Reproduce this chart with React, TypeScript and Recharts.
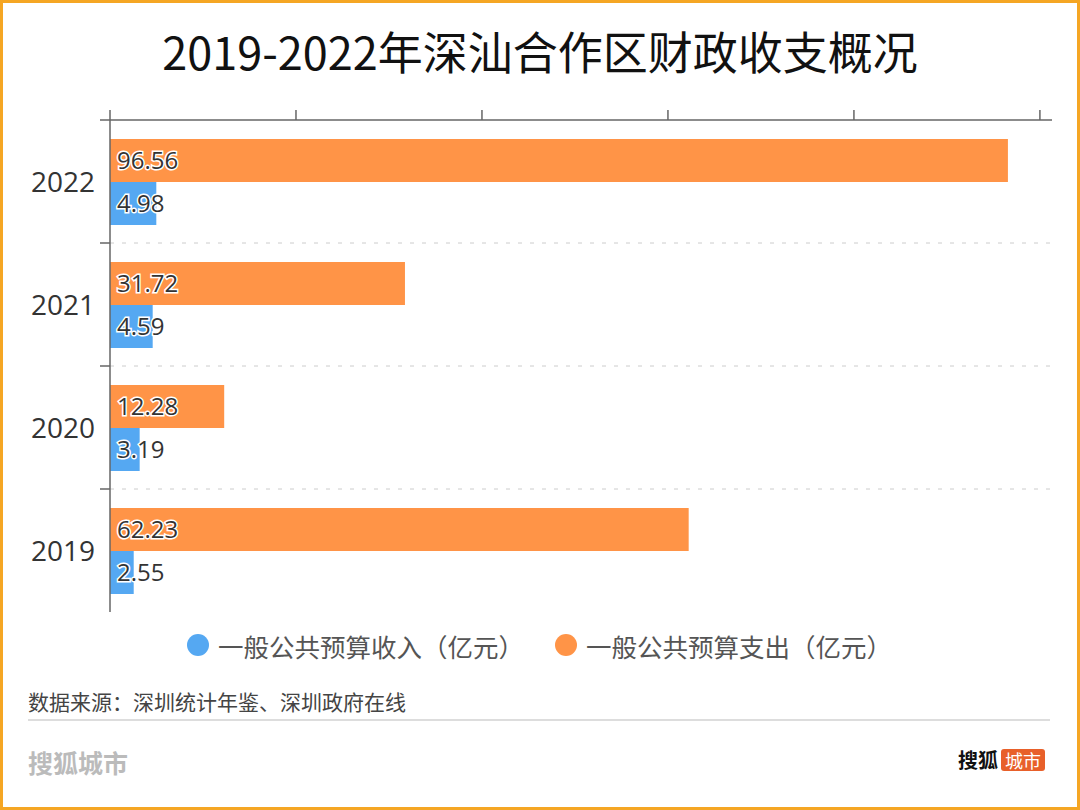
import React from "react"
import { BarChart, Bar, XAxis, YAxis, CartesianGrid, LabelList } from "recharts"

const years = ["2022", "2021", "2020", "2019"]
const income = [4.98, 4.59, 3.19, 2.55]
const expenditure = [96.56, 31.72, 12.28, 62.23]
const valueTicks = [0, 20, 40, 60, 80, 100]

const INCOME_NAME = "一般公共预算收入（亿元）"
const EXPENSE_NAME = "一般公共预算支出（亿元）"
const BLUE = "#55A8F2"
const ORANGE = "#FF9447"
const AXIS = "#666"
const FONT = "'Noto Sans CJK SC', 'Noto Sans', sans-serif"
const NUM_FONT = "'Open Sans', 'Noto Sans', sans-serif"

const data = years.map((year, i) => ({ year, income: income[i], expenditure: expenditure[i] }))

const labelStyle = {
  fontSize: 24,
  fill: "#333",
  stroke: "#fff",
  strokeWidth: 3,
  paintOrder: "stroke",
  fontFamily: NUM_FONT,
} as any

const legendItems = [
  { name: INCOME_NAME, color: BLUE, x: 184 },
  { name: EXPENSE_NAME, color: ORANGE, x: 552 },
]

// year label plus a short tick at the top edge of each band
function YearTick(props: any) {
  const { x, y, payload } = props
  const half = payload && payload.offset ? payload.offset : 0
  return (
    <g>
      <line x1={x + 5} x2={x + 15} y1={y - half} y2={y - half} stroke={AXIS} strokeWidth={1.5} />
      <text x={x} y={y} dy="0.36em" textAnchor="end" fontSize={28} fill="#333" fontFamily={NUM_FONT}>
        {payload.value}
      </text>
    </g>
  )
}

// dashed lines between the year bands
const bandLines = (props: any) => {
  const off = props.offset || { top: 120, height: 492 }
  return years.slice(1).map((_, i) => off.top + (off.height * (i + 1)) / years.length)
}

export default function App() {
  return (
    <div
      style={{
        position: "absolute",
        left: 0,
        top: 0,
        width: 1080,
        height: 810,
        boxSizing: "border-box",
        border: "3px solid #F5A623",
        background: "#fff",
        fontFamily: FONT,
        overflow: "hidden",
      }}
    >
      <div
        style={{
          position: "absolute",
          left: -3,
          top: 18,
          width: 1080,
          textAlign: "center",
          fontSize: 45,
          color: "#111",
          lineHeight: "60px",
        }}
      >
        2019-2022年深汕合作区财政收支概况
      </div>

      <div style={{ position: "absolute", left: -3, top: -3 }}>
        <BarChart
          width={1080}
          height={810}
          data={data}
          layout="vertical"
          margin={{ top: 110, right: 28, bottom: 198, left: 0 }}
          barSize={43}
          barGap={0}
        >
          <CartesianGrid
            vertical={false}
            stroke="#ccc"
            strokeDasharray="4 8"
            horizontalCoordinatesGenerator={bandLines}
          />
          <XAxis
            type="number"
            orientation="top"
            domain={[0, 101.3]}
            ticks={valueTicks}
            tickFormatter={() => ""}
            tickSize={10}
            height={10}
            axisLine={{ stroke: AXIS, strokeWidth: 1.5 }}
            tickLine={{ stroke: AXIS, strokeWidth: 1.5 }}
          />
          <YAxis
            type="category"
            dataKey="year"
            width={110}
            axisLine={{ stroke: AXIS, strokeWidth: 1.5 }}
            tickLine={false}
            tickSize={0}
            tickMargin={15}
            tick={<YearTick />}
          />
          <Bar dataKey="expenditure" name={EXPENSE_NAME} fill={ORANGE} isAnimationActive={false}>
            <LabelList dataKey="expenditure" position="insideLeft" offset={7} style={labelStyle} />
          </Bar>
          <Bar dataKey="income" name={INCOME_NAME} fill={BLUE} isAnimationActive={false}>
            <LabelList dataKey="income" position="insideLeft" offset={7} style={labelStyle} />
          </Bar>
        </BarChart>
      </div>

      {legendItems.map((item) => (
        <div
          key={item.name}
          style={{
            position: "absolute",
            left: item.x,
            top: 624,
            height: 36,
            display: "flex",
            alignItems: "center",
            fontSize: 25.5,
            color: "#555",
            whiteSpace: "nowrap",
          }}
        >
          <span
            style={{
              display: "inline-block",
              width: 22,
              height: 22,
              borderRadius: "50%",
              background: item.color,
              marginRight: 9,
            }}
          />
          {item.name}
        </div>
      ))}

      <div style={{ position: "absolute", left: 25, top: 684, fontSize: 21, color: "#444", lineHeight: "28px" }}>
        数据来源：深圳统计年鉴、深圳政府在线
      </div>
      <div style={{ position: "absolute", left: 25, top: 716, width: 1022, height: 2, background: "#ddd" }} />
      <div
        style={{
          position: "absolute",
          left: 25,
          top: 742,
          fontSize: 25,
          fontWeight: 700,
          color: "#bbb",
          lineHeight: "34px",
        }}
      >
        搜狐城市
      </div>
      <div
        style={{
          position: "absolute",
          right: 32,
          top: 745,
          display: "flex",
          alignItems: "center",
          fontSize: 20,
          lineHeight: "24px",
        }}
      >
        <span style={{ color: "#111", fontWeight: 700, marginRight: 3 }}>搜狐</span>
        <span
          style={{
            background: "#E8602A",
            color: "#fff",
            borderRadius: 3,
            padding: "0 4px",
            fontSize: 18,
            lineHeight: "22px",
          }}
        >
          城市
        </span>
      </div>
    </div>
  )
}
